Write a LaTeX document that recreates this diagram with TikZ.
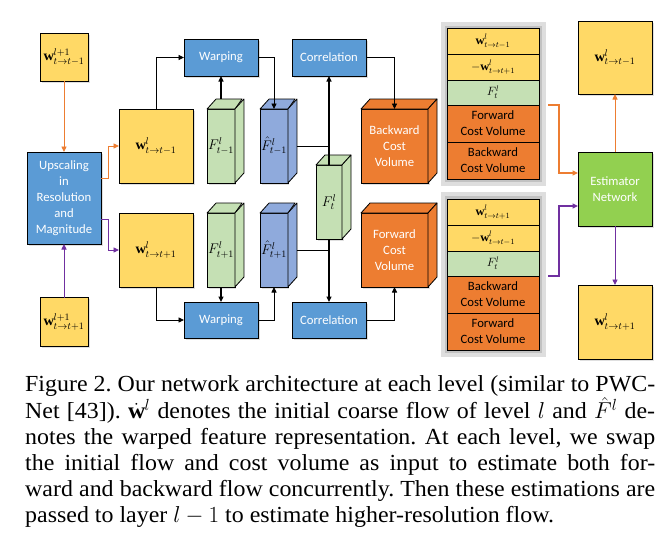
\RequirePackage{fix-cm}
\documentclass[tikz,border=0pt]{standalone}
\usepackage{amsmath,amssymb}
\usepackage{fontspec}
\setmainfont{Liberation Serif}[FakeStretch=1.04]
\newfontfamily\diafont{Carlito}
\usepackage{tikz}
\usetikzlibrary{arrows.meta}
\usetikzlibrary{positioning}
\usetikzlibrary{shadows}

\definecolor{cyellow}{HTML}{FFD966}
\definecolor{cblue}{HTML}{5B9BD5}
\definecolor{chat}{HTML}{8FAADC}
\definecolor{cgreen}{HTML}{C5E0B4}
\definecolor{cest}{HTML}{92D050}
\definecolor{corange}{HTML}{ED7D31}
\definecolor{cpurple}{HTML}{7030A0}

\tikzset{
  shadowed/.style={drop shadow={shadow xshift=1.5pt,shadow yshift=-1.5pt,opacity=0.25}},
  block/.style={draw=black, line width=0.8pt, inner sep=1pt, outer sep=0pt, align=center,
    font=\diafont\fontsize{12.7}{16}\selectfont},
  mathtext/.style={font=\diafont\fontsize{14}{16}\selectfont},
  ybox/.style={block, shadowed, fill=cyellow, mathtext},
  bbox/.style={block, shadowed, fill=cblue, text=white},
  gbox/.style={block, shadowed, fill=cest, text=white},
  cubefront/.style={block, shadowed, minimum height=74pt},
  cubeface/.style={draw=black, line width=0.8pt, line join=round},
  cubelabel/.style={text=white},
  stackbg/.style={fill=black!24, draw=black!13, line width=4pt},
  srow/.style={block, minimum width=92pt},
  srowm/.style={srow, font=\diafont\fontsize{12}{14}\selectfont},
  tip/.style={-{Triangle[length=5.5pt,width=5pt]}},
  tline/.style={draw=black, line width=0.9pt},
  tarrow/.style={tline, tip},
  Tarrow/.style={draw=black, line width=2pt, tip},
  oarrow/.style={draw=corange, line width=0.9pt, tip},
  oarrowT/.style={draw=corange, line width=1.8pt, tip},
  parrow/.style={draw=cpurple, line width=0.9pt, tip},
  parrowT/.style={draw=cpurple, line width=1.8pt, tip},
  captext/.style={anchor=north west, inner sep=0pt, text width=630pt, align=justify,
    font=\fontsize{23}{25.8}\selectfont\frenchspacing}
}

% box: name, position, width, height, style, text
\newcommand{\boxnode}[6]{\node[#5, minimum width=#3pt, minimum height=#4pt] (#1) at (#2) {#6};}
% cube: name, position, front width, colour, label style, text
\newcommand{\cubenode}[6]{%
  \node[cubefront, fill=#4, minimum width=#3pt, #5] (#1) at (#2) {#6};
  \draw[cubeface, fill=#4] (#1.north west) -- ++(9,-10) -- ++(#3,0) -- (#1.north east) -- cycle;
  \draw[cubeface, fill=#4] (#1.north east) -- ++(9,-10) -- ++(0,74) -- (#1.south east) -- cycle;
  \coordinate (#1-top) at ([yshift=10pt]#1.north);
}

\begin{document}
\begin{tikzpicture}[x=1pt, y=-1pt]
    \useasboundingbox (0,0) rectangle (671,555);

    %nodes
    \boxnode{winA}{64,57}{48}{48}{ybox}{$\mathbf{w}^{l+1}_{t\rightarrow t-1}$}
    \boxnode{ups}{64,198}{74}{92}{bbox}{Upscaling\\in\\Resolution\\and\\Magnitude}
    \boxnode{winB}{64,322}{48}{49}{ybox}{$\mathbf{w}^{l+1}_{t\rightarrow t+1}$}

    \boxnode{wprev}{156,146}{74}{74}{ybox}{$\mathbf{w}^{l}_{t\rightarrow t-1}$}
    \boxnode{wnext}{156,250}{74}{74}{ybox}{$\mathbf{w}^{l}_{t\rightarrow t+1}$}

    \boxnode{warpA}{221,57.5}{74}{37}{bbox}{Warping}
    \boxnode{warpB}{221,320}{74}{36}{bbox}{Warping}
    \boxnode{corrA}{329,57.5}{74}{37}{bbox}{Correlation}
    \boxnode{corrB}{329,320}{74}{36}{bbox}{Correlation}

    \cubenode{gprev}{221,146}{26}{cgreen}{mathtext}{$F^{l}_{t-1}$}
    \cubenode{hprev}{274,146}{26}{chat}{mathtext}{$\hat{F}^{l}_{t-1}$}
    \cubenode{gnext}{221,250}{26}{cgreen}{mathtext}{$F^{l}_{t+1}$}
    \cubenode{hnext}{274,250}{26}{chat}{mathtext}{$\hat{F}^{l}_{t+1}$}
    \cubenode{ft}{329,202}{26}{cgreen}{mathtext}{$F^{l}_{t}$}
    \cubenode{bcv}{394.5,146}{67}{corange}{cubelabel}{Backward\\Cost\\Volume}
    \cubenode{fcv}{394.5,250}{67}{corange}{cubelabel}{Forward\\Cost\\Volume}

    % stacked inputs
    \node[stackbg, minimum width=101pt, minimum height=160pt] (bgA) at (493.5,104) {};
    \node[srowm, fill=cyellow, minimum height=26pt] (s1a) at (493,41) {$\mathbf{w}^{l}_{t\rightarrow t-1}$};
    \node[srowm, fill=cyellow, minimum height=26pt, below=0pt of s1a] (s1b) {$-\mathbf{w}^{l}_{t\rightarrow t+1}$};
    \node[srowm, fill=cgreen, minimum height=25pt, below=0pt of s1b] (s1c) {$F^{l}_{t}$};
    \node[srow, fill=corange, minimum height=37pt, below=0pt of s1c] (s1d) {Forward\\Cost Volume};
    \node[srow, fill=corange, minimum height=37pt, below=0pt of s1d] (s1e) {Backward\\Cost Volume};

    \node[stackbg, minimum width=101pt, minimum height=161pt] (bgB) at (493.5,274.5) {};
    \node[srowm, fill=cyellow, minimum height=26pt] (s2a) at (493,212) {$\mathbf{w}^{l}_{t\rightarrow t+1}$};
    \node[srowm, fill=cyellow, minimum height=26pt, below=0pt of s2a] (s2b) {$-\mathbf{w}^{l}_{t\rightarrow t-1}$};
    \node[srowm, fill=cgreen, minimum height=25pt, below=0pt of s2b] (s2c) {$F^{l}_{t}$};
    \node[srow, fill=corange, minimum height=37pt, below=0pt of s2c] (s2d) {Backward\\Cost Volume};
    \node[srow, fill=corange, minimum height=37pt, below=0pt of s2d] (s2e) {Forward\\Cost Volume};

    \boxnode{wout1}{615,57.5}{74}{73}{ybox}{$\mathbf{w}^{l}_{t\rightarrow t-1}$}
    \boxnode{est}{615,189}{74}{74}{gbox}{Estimator\\Network}
    \boxnode{wout2}{615,322}{74}{74}{ybox}{$\mathbf{w}^{l}_{t\rightarrow t+1}$}

    %edges
    \draw[oarrow] (winA) -- (ups);
    \draw[parrow] (winB) -- (ups);
    \draw[oarrow] ([yshift=20pt]ups.east) -- ++(7,0) |- (wprev.west);
    \draw[parrow] ([yshift=-21pt]ups.east) -- ++(7,0) |- (wnext.west);

    \draw[tarrow] (wprev.north) |- (warpA.west);
    \draw[tarrow] (wnext.south) |- (warpB.west);
    \draw[Tarrow] (gprev-top) -- (warpA.south);
    \draw[Tarrow] (gnext.south) -- (warpB.north);
    \draw[tarrow] (warpA.east) -| (hprev.north);
    \draw[tarrow] (warpB.east) -| (hnext.south);

    \draw[tline] ([xshift=9pt]hprev.east) -- (ft.north |- hprev.east);
    \draw[tline] ([xshift=9pt]hnext.east) -- (ft.south |- hnext.east);
    \draw[Tarrow] (ft.north) -- (corrA.south);
    \draw[Tarrow] (ft.south) -- (corrB.north);
    \draw[tarrow] (corrA.east) -| (bcv.north);
    \draw[tarrow] (corrB.east) -| (fcv.south);

    \draw[oarrowT] ([xshift=2pt]bgA.east |- s1c.south) -- ++(11,0) |- ([yshift=16pt]est.west);
    \draw[parrowT] ([xshift=2pt]bgB.east |- s2c.south) -- ++(11,0) |- ([yshift=-17pt]est.west);
    \draw[oarrow] (est) -- (wout1);
    \draw[parrow] (est) -- (wout2);

    %caption
    \node[captext] (caption) at (25,375) {Figure 2. Our network architecture at each level (similar to PWC-\linebreak
      Net [43]). $\dot{\mathbf{w}}^{l}$ denotes the initial coarse flow of level $l$ and $\hat{F}^{l}$ de-\linebreak
      notes the warped feature representation. At each level, we swap\linebreak
      the initial flow and cost volume as input to estimate both for-\linebreak
      ward and backward flow concurrently. Then these estimations are\linebreak
      passed to layer $l-1$ to estimate higher-resolution flow.};
\end{tikzpicture}
\end{document}
